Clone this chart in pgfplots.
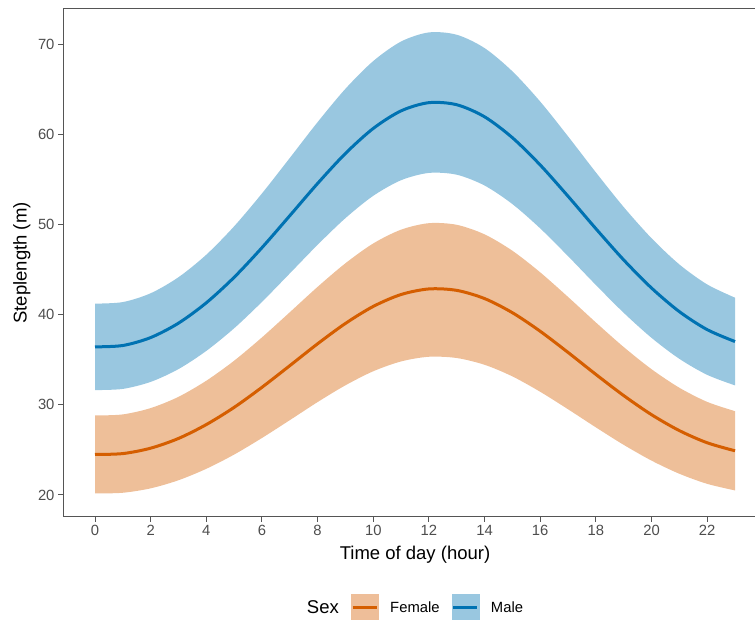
\documentclass[border=0pt]{standalone}
\usepackage{pgfplots}
\usepackage{pgfplotstable}
\usepackage{fontspec}
\setmainfont{Liberation Sans}
\pgfplotsset{compat=1.18}
\usepgfplotslibrary{fillbetween}

\definecolor{maleline}{HTML}{0072B2}
\definecolor{femline}{HTML}{D55E00}
\colorlet{malefill}{maleline!40!white}
\colorlet{femfill}{femline!40!white}
\definecolor{framegray}{HTML}{555555}
\definecolor{tickgray}{HTML}{4D4D4D}

% hour, fitted mean, lower and upper band
\pgfplotstableread{
t mean lo hi
0 36.44 31.64 41.24
1 36.59 31.77 41.41
2 37.47 32.55 42.39
3 39.07 33.97 44.17
4 41.33 35.99 46.67
5 44.16 38.50 49.82
6 47.45 41.43 53.47
7 51.00 44.59 57.41
8 54.58 47.77 61.39
9 57.91 50.73 65.09
10 60.69 53.21 68.17
11 62.64 54.94 70.34
12 63.55 55.75 71.35
13 63.32 55.55 71.09
14 61.98 54.35 69.61
15 59.66 52.29 67.03
16 56.63 49.59 63.67
17 53.16 46.51 59.81
18 49.56 43.31 55.81
19 46.09 40.22 51.96
20 42.97 37.44 48.50
21 40.35 35.11 45.59
22 38.35 33.33 43.37
23 37.03 32.16 41.90
}\male

\pgfplotstableread{
t mean lo hi
0 24.49 20.16 28.82
1 24.59 20.24 28.94
2 25.19 20.73 29.64
3 26.27 21.63 30.89
4 27.81 22.90 32.68
5 29.72 24.48 34.90
6 31.95 26.32 37.49
7 34.35 28.30 40.28
8 36.78 30.31 43.10
9 39.04 32.17 45.72
10 40.93 33.73 47.92
11 42.25 34.82 49.45
12 42.87 35.34 50.17
13 42.71 35.20 49.99
14 41.80 34.45 48.93
15 40.23 33.16 47.11
16 38.17 31.45 44.71
17 35.82 29.51 41.98
18 33.38 27.50 39.15
19 31.03 25.56 36.42
20 28.91 23.81 33.96
21 27.14 22.35 31.90
22 25.79 21.23 30.33
23 24.90 20.50 29.30
}\female

\begin{document}
\begin{tikzpicture}
\begin{axis}[
    scale only axis,
    width=704pt, height=508pt,
    xmin=-1.15, xmax=24.15, ymin=17.55, ymax=73.95,
    xtick={0,2,...,22}, ytick={20,30,...,70},
    xtick pos=bottom, ytick pos=left,
    tick align=outside,
    major tick length=5pt,
    tick style={color=framegray, line width=1pt},
    axis line style={color=framegray, line width=1pt},
    /pgf/number format/assume math mode=true,
    ticklabel style={font=\fontsize{14.8}{16}\selectfont, text=tickgray},
    xlabel={Time of day (hour)},
    ylabel={Steplength (m)},
    label style={font=\fontsize{18.5}{20}\selectfont},
    xlabel style={at={(axis description cs:0.5,0)}, anchor=north, inner sep=0pt, yshift=-29pt},
    ylabel style={at={(axis description cs:-0.0710,0.5)}, anchor=north, inner sep=0pt},
    legend columns=-1,
    legend style={draw=none, fill=none, at={(axis description cs:0.4915,-0.1791)}, anchor=center,
        font=\fontsize{14.8}{16}\selectfont, column sep=12pt, nodes={inner sep=0pt}},
]
% Female band and line
\addplot[name path=fhi, draw=none, smooth, forget plot] table[x=t, y=hi] {\female};
\addplot[name path=flo, draw=none, smooth, forget plot] table[x=t, y=lo] {\female};
\addplot[fill=femfill, draw=none, forget plot] fill between[of=fhi and flo];
% Male band and line
\addplot[name path=mhi, draw=none, smooth, forget plot] table[x=t, y=hi] {\male};
\addplot[name path=mlo, draw=none, smooth, forget plot] table[x=t, y=lo] {\male};
\addplot[fill=malefill, draw=none, forget plot] fill between[of=mhi and mlo];

\addplot[femline, line width=3pt, smooth, forget plot] table[x=t, y=mean] {\female};
\addplot[maleline, line width=3pt, smooth, forget plot] table[x=t, y=mean] {\male};

\addlegendimage{empty legend}
\addlegendentry{\fontsize{18.5}{20}\selectfont Sex}
\addlegendimage{legend image code/.code={
    \fill[femfill] (0pt,-13.5pt) rectangle (27pt,13.5pt);
    \draw[femline, line width=3pt] (1.5pt,0pt) -- (25.5pt,0pt);}}
\addlegendentry{Female}
\addlegendimage{legend image code/.code={
    \fill[malefill] (0pt,-13.5pt) rectangle (27pt,13.5pt);
    \draw[maleline, line width=3pt] (1.5pt,0pt) -- (25.5pt,0pt);}}
\addlegendentry{Male}
\end{axis}
\pgfresetboundingbox
\useasboundingbox (-63pt,-103pt) rectangle (692pt,517pt);
\end{tikzpicture}
\end{document}
